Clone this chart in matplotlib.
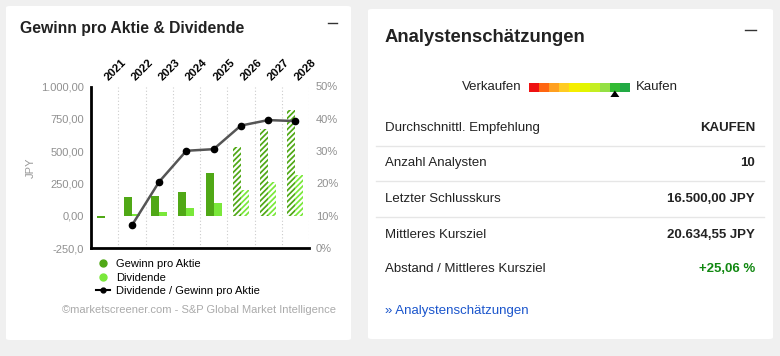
import numpy as np
import matplotlib.pyplot as plt
import matplotlib.transforms as mtransforms
from matplotlib.patches import FancyBboxPatch, Rectangle, Polygon
from matplotlib.lines import Line2D

plt.rcParams['font.family'] = ['Liberation Sans', 'DejaVu Sans']
plt.rcParams['hatch.linewidth'] = 1.25

# chart data (JPY)
years = ['2021', '2022', '2023', '2024', '2025', '2026', '2027', '2028']
eps = [-15, 147, 150, 186, 330, 529, 671, 818]
dividend = [0, 10, 31, 57, 100, 199, 263, 315]
payout = [np.nan, 7.0, 20.5, 30.1, 30.6, 37.9, 39.6, 39.3]   # percent
estimate = [False, False, False, False, False, True, True, True]
left_ticks = [-250, 0, 250, 500, 750, 1000]
left_labels = ['-250,0', '0,00', '250,00', '500,00', '750,00', '1.000,00']
right_ticks = [0, 10, 20, 30, 40, 50]

# analyst panel data
scale_colors = ['#ee1111', '#ff6611', '#ffa020', '#ffcc22', '#f6ee00',
                '#e2f500', '#c4ee22', '#94e044', '#33bb33', '#22aa44']
rating_pos = 8  # index of the marked segment
rows = ['Durchschnittl. Empfehlung', 'Anzahl Analysten', 'Letzter Schlusskurs',
        'Mittleres Kursziel', 'Abstand / Mittleres Kursziel']
values = ['KAUFEN', '10', '16.500,00 JPY', '20.634,55 JPY', '+25,06 %']

W, H = 780, 356
fx = lambda x: x / W
fy = lambda y: 1 - y / H

fig = plt.figure(figsize=(W / 100, H / 100), dpi=100)
fig.patch.set_facecolor('#f0f0f0')

# white cards
for x0, y0, x1, y1 in [(6, 6, 351, 340), (368, 9, 773, 339)]:
    fig.patches.append(FancyBboxPatch((fx(x0), fy(y1)), fx(x1 - x0), (y1 - y0) / H,
                                      boxstyle='round,pad=0,rounding_size=0.005',
                                      transform=fig.transFigure, fc='white', ec='none', zorder=-5))

# ---- left chart ----
dark = '#50a816'
light = '#7ae83a'
ax = fig.add_axes([fx(91), fy(248), fx(309 - 91), (248 - 86.5) / H])
ax.set_facecolor('none')
x = np.arange(len(years))
w = 0.29
for i in range(len(years)):
    if estimate[i]:
        ax.bar(x[i] - w / 2, eps[i], w, color='white', edgecolor=dark, hatch='//////', linewidth=0)
        ax.bar(x[i] + w / 2, dividend[i], w, color='white', edgecolor=light, hatch='//////', linewidth=0)
    else:
        ax.bar(x[i] - w / 2, eps[i], w, color=dark, linewidth=0)
        ax.bar(x[i] + w / 2, dividend[i], w, color=light, linewidth=0)

ax.set_xlim(-0.5, len(years) - 0.5)
ax.set_ylim(-250, 1000)
ax.vlines(x + 0.5, -250, 1000, colors='#cccccc', linestyles=(0, (1, 2)), linewidth=0.8)
ax.set_xticks(x)
ax.set_xticklabels(years, rotation=45, ha='left', va='bottom', rotation_mode='anchor',
                   fontsize=8.2, fontweight='bold')
ax.tick_params(axis='x', top=True, labeltop=True, bottom=False, labelbottom=False, length=0, pad=3)
shift = mtransforms.ScaledTranslation(5 / 100, 0, fig.dpi_scale_trans)
for lbl in ax.get_xticklabels():
    lbl.set_transform(lbl.get_transform() + shift)
ax.set_yticks(left_ticks)
ax.set_yticklabels(left_labels, fontsize=8, color='#909090')
ax.tick_params(axis='y', length=0, pad=5)
for s in ['top', 'right']:
    ax.spines[s].set_visible(False)
ax.spines['left'].set_linewidth(2)
ax.spines['bottom'].set_linewidth(2)
ax.set_ylabel('JPY', fontsize=8, color='#999999', labelpad=4)

ax2 = ax.twinx()
ax2.set_ylim(0, 50)
ax2.plot(x, payout, color='#555555', linewidth=1.8, marker='o', markersize=4.5,
         markerfacecolor='black', markeredgecolor='black')
ax2.set_yticks(right_ticks)
ax2.set_yticklabels([f'{t}%' for t in right_ticks], fontsize=8, color='#909090')
ax2.tick_params(axis='y', length=0, pad=5)
for s in ['top', 'right', 'left', 'bottom']:
    ax2.spines[s].set_visible(False)

handles = [Line2D([], [], ls='', marker='o', markersize=5, color=dark),
           Line2D([], [], ls='', marker='o', markersize=5, color=light),
           Line2D([], [], color='black', marker='o', markersize=3.5, linewidth=1.5)]
fig.legend(handles, ['Gewinn pro Aktie', 'Dividende', 'Dividende / Gewinn pro Aktie'],
           loc='upper left', bbox_to_anchor=(fx(96), fy(259)), frameon=False, fontsize=8,
           labelspacing=0.32, handlelength=1.3, handletextpad=0.5, borderpad=0, borderaxespad=0)

fig.text(fx(20), fy(28), 'Gewinn pro Aktie & Dividende', fontsize=11.3, fontweight='bold',
         va='center', color='#222222')
fig.add_artist(Line2D([fx(328), fx(337)], [fy(23), fy(23)], color='#333333', lw=1))
fig.text(fx(199), fy(310), '©marketscreener.com - S&P Global Market Intelligence', fontsize=8,
         color='#aaaaaa', ha='center', va='center')

# ---- right panel ----
fig.text(fx(385), fy(37), 'Analystenschätzungen', fontsize=13.3, fontweight='bold',
         va='center', color='#222222')
fig.add_artist(Line2D([fx(745), fx(756)], [fy(30), fy(30)], color='#333333', lw=1))

seg = (630 - 529) / len(scale_colors)
for i, c in enumerate(scale_colors):
    fig.patches.append(Rectangle((fx(529 + i * seg), fy(92)), seg / W, 9 / H, fc=c, ec='none',
                                 transform=fig.transFigure))
tx = 529 + (rating_pos + 0.5) * seg
fig.patches.append(Polygon([(fx(tx), fy(90.5)), (fx(tx - 4.5), fy(97)), (fx(tx + 4.5), fy(97))],
                           closed=True, fc='black', ec='none', transform=fig.transFigure))
fig.text(fx(522), fy(87), 'Verkaufen', fontsize=9.5, ha='right', va='center', color='#222222')
fig.text(fx(636), fy(87), 'Kaufen', fontsize=9.5, ha='left', va='center', color='#222222')

row_y = [128, 163, 199, 235, 269]
for i, (lab, val) in enumerate(zip(rows, values)):
    fig.text(fx(385), fy(row_y[i]), lab, fontsize=9.5, va='center', color='#222222')
    fig.text(fx(755), fy(row_y[i]), val, fontsize=9.5, va='center', ha='right', fontweight='bold',
             color='#118811' if val.startswith('+') else '#222222')
for yl in [146, 181, 217]:
    fig.add_artist(Line2D([fx(376), fx(764)], [fy(yl), fy(yl)], color='#e6e6e6', lw=1))

fig.text(fx(385), fy(311), '» Analystenschätzungen', fontsize=9.5, va='center', color='#1a55cc')

fig.savefig('out.png', dpi=100, facecolor=fig.get_facecolor())
